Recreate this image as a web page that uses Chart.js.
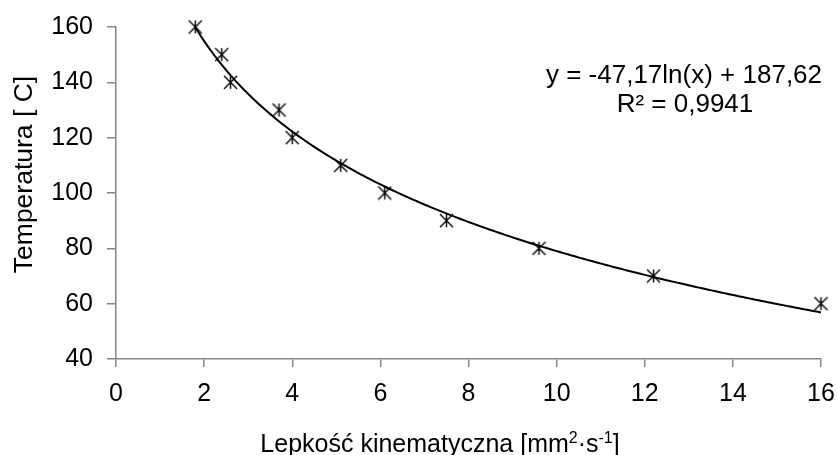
<!DOCTYPE html>
<html><head><meta charset="utf-8">
<script src="https://cdn.jsdelivr.net/npm/chart.js@4/dist/chart.umd.min.js"></script>
<style>html,body{margin:0;padding:0;background:#fff}#wrap{width:837px;height:455px}</style>
</head><body><div id="wrap"><canvas id="c" width="837" height="455"></canvas></div>
<script>
// ---- data ----
const viscosity = [1.8, 2.4, 2.6, 3.7, 4.0, 5.1, 6.1, 7.5, 9.6, 12.2, 16.0];
const temperature = [160, 150, 140, 130, 120, 110, 100, 90, 80, 70, 60];
const xTickValues = [0, 2, 4, 6, 8, 10, 12, 14, 16];
const yTickValues = [40, 60, 80, 100, 120, 140, 160];
// logarithmic trendline shown in the chart: y = a*ln(x) + b
const trendA = -47.17;
const trendB = 187.62;
const equationLines = ['y = -47,17ln(x) + 187,62', 'R\u00b2 = 0,9941'];
const yTitle = 'Temperatura [ C]';
const xTitleParts = [['Lepkość kinematyczna [mm', false], ['2', true], ['\u00b7s', false], ['-1', true], [']', false]];

const FONT = '"Liberation Sans", Arial, sans-serif';
const AXIS_GRAY = '#868686';

const scatterPts = viscosity.map((v, i) => ({x: v, y: temperature[i]}));
const xMinT = Math.min(...viscosity), xMaxT = Math.max(...viscosity);
const trendPts = [];
for (let k = 0; k <= 200; k++) {
  const x = xMinT + (xMaxT - xMinT) * k / 200;
  trendPts.push({x: x, y: trendA * Math.log(x) + trendB});
}

// star marker (X plus vertical bar)
function makeMarker() {
  const s = 15, c = document.createElement('canvas');
  c.width = s; c.height = s;
  const g = c.getContext('2d');
  g.strokeStyle = '#000'; g.lineWidth = 1.4;
  const m = s / 2, r = 6.5;
  g.beginPath();
  g.moveTo(m - r, m - r); g.lineTo(m + r, m + r);
  g.moveTo(m + r, m - r); g.lineTo(m - r, m + r);
  g.moveTo(m, m - r); g.lineTo(m, m + r);
  g.stroke();
  return c;
}
const marker = makeMarker();

const textPlugin = {
  id: 'texts',
  afterDraw(chart) {
    const ctx = chart.ctx;
    ctx.save();
    ctx.fillStyle = '#000';
    // equation
    ctx.font = '26px ' + FONT;
    ctx.textAlign = 'center';
    ctx.textBaseline = 'alphabetic';
    ctx.fillText(equationLines[0], 684, 83);
    ctx.fillText(equationLines[1], 685, 112);
    // y title
    ctx.save();
    ctx.font = '26.5px ' + FONT;
    ctx.translate(32, 174.5);
    ctx.rotate(-Math.PI / 2);
    ctx.textAlign = 'center';
    ctx.fillText(yTitle, 0, 0);
    ctx.restore();
    // x title with superscripts
    const big = '25px ' + FONT, small = '16px ' + FONT;
    let total = 0;
    xTitleParts.forEach(([t, sup]) => { ctx.font = sup ? small : big; total += ctx.measureText(t).width; });
    let x = 440 - total / 2;
    ctx.textAlign = 'left';
    xTitleParts.forEach(([t, sup]) => {
      ctx.font = sup ? small : big;
      ctx.fillText(t, x, sup ? 443 : 452);
      x += ctx.measureText(t).width;
    });
    ctx.restore();
  }
};

new Chart(document.getElementById('c'), {
  type: 'scatter',
  data: {
    datasets: [
      {
        label: 'Trend',
        data: trendPts,
        showLine: true,
        borderColor: '#000',
        borderWidth: 2,
        pointRadius: 0,
        tension: 0,
        clip: false,
        order: 1
      },
      {
        label: 'Temperatura',
        data: scatterPts,
        pointStyle: marker,
        pointRadius: 7,
        borderColor: '#000',
        backgroundColor: '#000',
        clip: false,
        order: 2
      }
    ]
  },
  options: {
    responsive: false,
    animation: false,
    devicePixelRatio: 1,
    layout: {padding: {top: 27, right: 16, left: 0, bottom: 0}},
    plugins: {legend: {display: false}, tooltip: {enabled: false}},
    scales: {
      x: {
        type: 'linear', min: 0, max: 16,
        afterBuildTicks: s => { s.ticks = xTickValues.map(v => ({value: v})); },
        afterFit: s => { s.height = 96; s.paddingLeft = 0; s.paddingRight = 0; },
        ticks: {color: '#000', font: {family: FONT, size: 25}, padding: 12, maxRotation: 0},
        grid: {display: true, drawOnChartArea: false, drawTicks: true, tickLength: 8, color: AXIS_GRAY, lineWidth: 1.5},
        border: {display: true, color: AXIS_GRAY, width: 1.5}
      },
      y: {
        type: 'linear', min: 40, max: 160,
        afterBuildTicks: s => { s.ticks = yTickValues.map(v => ({value: v})); },
        afterFit: s => { s.width = 116; s.paddingTop = 0; s.paddingBottom = 0; },
        ticks: {color: '#000', font: {family: FONT, size: 25}, padding: 14},
        grid: {display: true, drawOnChartArea: false, drawTicks: true, tickLength: 9, color: AXIS_GRAY, lineWidth: 1.5},
        border: {display: true, color: AXIS_GRAY, width: 1.5}
      }
    }
  },
  plugins: [textPlugin]
});
</script></body></html>
